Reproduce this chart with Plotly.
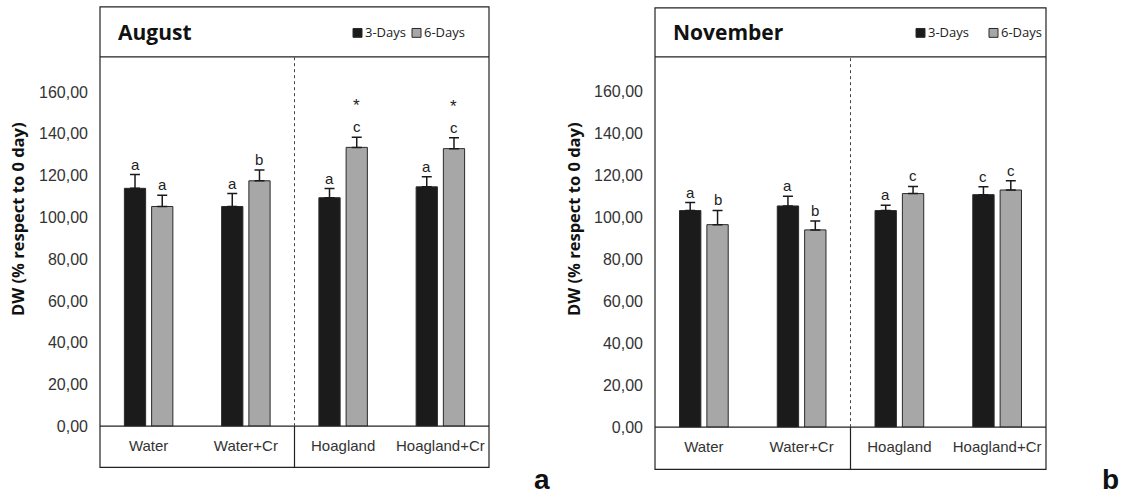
import plotly.graph_objects as go

W, H = 1124, 501

categories = ["Water", "Water+Cr", "Hoagland", "Hoagland+Cr"]
series_names = ["3-Days", "6-Days"]

# August (panel a)
aug_3d = [113.9, 105.2, 109.4, 114.6]
aug_3d_err = [6.6, 6.2, 4.4, 4.8]
aug_6d = [105.2, 117.5, 133.5, 132.9]
aug_6d_err = [5.4, 5.2, 4.8, 5.2]
aug_3d_letters = ["a", "a", "a", "a"]
aug_6d_letters = ["a", "b", "c", "c"]
aug_6d_stars = ["", "", "*", "*"]

# November (panel b)
nov_3d = [103.2, 105.4, 103.2, 110.8]
nov_3d_err = [3.8, 4.6, 2.6, 3.8]
nov_6d = [96.5, 94.0, 111.3, 113.0]
nov_6d_err = [6.8, 4.2, 3.4, 4.4]
nov_3d_letters = ["a", "a", "a", "c"]
nov_6d_letters = ["b", "b", "c", "c"]
nov_6d_stars = ["", "", "", ""]

y_ticks = [0, 20, 40, 60, 80, 100, 120, 140, 160]
y_title = "DW (% respect to 0 day)"
panel_titles = ["August", "November"]
panel_tags = ["a", "b"]

BLACK = "#1b1b1b"
GREY = "#a7a7a7"
EDGE = "#2a2a2a"


def px(x):
    return x / W


def py(y):
    return 1 - y / H


# panel pixel geometry: left, right, top(box), header bottom, zero line, bottom(box)
panels = [
    dict(l=100, r=489, top=7, hdr=58, zero=434, bot=476, ymax=176.8, ytx=18,
         tag=(542, 488)),
    dict(l=655, r=1046, top=8, hdr=58, zero=435, bot=478, ymax=176.4, ytx=574,
         tag=(1110, 488)),
]

data = [
    (aug_3d, aug_3d_err, aug_6d, aug_6d_err, aug_3d_letters, aug_6d_letters, aug_6d_stars),
    (nov_3d, nov_3d_err, nov_6d, nov_6d_err, nov_3d_letters, nov_6d_letters, nov_6d_stars),
]

fig = go.Figure()
shapes = []
annotations = []

for i, (p, d) in enumerate(zip(panels, data)):
    v3, e3, v6, e6, l3, l6, s6 = d
    xa = "x" if i == 0 else "x2"
    ya = "y" if i == 0 else "y2"
    for name, vals, errs, col in ((series_names[0], v3, e3, BLACK), (series_names[1], v6, e6, GREY)):
        fig.add_trace(go.Bar(
            x=categories, y=vals, name=name, xaxis=xa, yaxis=ya,
            marker=dict(color=col, line=dict(color=EDGE, width=1)),
            error_y=dict(type="data", array=errs, arrayminus=[0] * len(errs), symmetric=False,
                         color="#1a1a1a", thickness=1.5, width=5),
            showlegend=False,
        ))
    slot = (p["r"] - p["l"]) / 4 * (1 - 0.44) / 2
    for j, c in enumerate(categories):
        for vals, errs, labs, shift in ((v3, e3, l3, -slot / 2), (v6, e6, l6, slot / 2)):
            annotations.append(dict(
                x=c, y=vals[j] + errs[j], xref=xa, yref=ya, text=labs[j], showarrow=False,
                xshift=shift, yanchor="bottom", yshift=0,
                font=dict(family="Liberation Sans", size=15, color="#222222")))
        if s6[j]:
            annotations.append(dict(
                x=c, y=v6[j] + e6[j], xref=xa, yref=ya, text=s6[j], showarrow=False,
                xshift=slot / 2, yanchor="bottom", yshift=20,
                font=dict(family="Liberation Sans", size=17, color="#222222")))

    # frame
    shapes.append(dict(type="rect", xref="paper", yref="paper", x0=px(p["l"]), x1=px(p["r"]),
                       y0=py(p["bot"]), y1=py(p["top"]), line=dict(color="#222222", width=1.2)))
    shapes.append(dict(type="line", xref="paper", yref="paper", x0=px(p["l"]), x1=px(p["r"]),
                       y0=py(p["hdr"]), y1=py(p["hdr"]), line=dict(color="#222222", width=1.2)))
    shapes.append(dict(type="line", xref="paper", yref="paper", x0=px(p["l"]), x1=px(p["r"]),
                       y0=py(p["zero"]), y1=py(p["zero"]), line=dict(color="#222222", width=1.2)))
    # dividers
    shapes.append(dict(type="line", xref=xa, yref=ya + " domain", x0=1.5, x1=1.5, y0=0, y1=1,
                       line=dict(color="#444444", width=1, dash="dot")))
    shapes.append(dict(type="line", xref=xa, yref="paper", x0=1.5, x1=1.5,
                       y0=py(p["bot"]), y1=py(p["zero"]), line=dict(color="#222222", width=1.2)))

    # header title
    annotations.append(dict(x=px(p["l"] + 16), y=py(33), xref="paper", yref="paper",
                            text="<b>%s</b>" % panel_titles[i], showarrow=False,
                            xanchor="left", yanchor="middle",
                            font=dict(family="Open Sans", size=21, color="#111111")))
    # manual legend
    lx = p["r"] - 136 if i == 0 else p["r"] - 130
    for k, (name, col) in enumerate(((series_names[0], BLACK), (series_names[1], GREY))):
        x0 = lx + k * (59 if i == 0 else 73)
        shapes.append(dict(type="rect", xref="paper", yref="paper", x0=px(x0), x1=px(x0 + 9),
                           y0=py(38), y1=py(29), fillcolor=col, line=dict(color=EDGE, width=1)))
        annotations.append(dict(x=px(x0 + 10), y=py(33), xref="paper", yref="paper",
                                text=name, showarrow=False, xanchor="left", yanchor="middle",
                                font=dict(family="Open Sans", size=13, color="#222222")))
    # y title
    annotations.append(dict(x=px(p["ytx"]), y=py(223), xref="paper", yref="paper",
                            text="<b>%s</b>" % y_title, textangle=-90, showarrow=False,
                            xanchor="center", yanchor="middle",
                            font=dict(family="Open Sans", size=16.5, color="#111111")))
    # panel tag
    annotations.append(dict(x=px(p["tag"][0]), y=py(p["tag"][1]), xref="paper", yref="paper",
                            text="<b>%s</b>" % panel_tags[i], showarrow=False,
                            xanchor="center", yanchor="middle",
                            font=dict(family="Liberation Sans", size=28, color="#111111")))

axis_common_x = dict(type="category", range=[-0.5, 3.5], showgrid=False, zeroline=False,
                     showline=False, ticks="", ticklabelstandoff=9,
                     tickfont=dict(family="Liberation Sans", size=15, color="#333333"),
                     fixedrange=True)
axis_common_y = dict(tickvals=y_ticks, tickformat=".2f", showgrid=False, zeroline=False,
                     showline=False, ticks="", ticklabelstandoff=11,
                     tickfont=dict(family="Liberation Sans", size=16, color="#333333"),
                     fixedrange=True)

p0, p1 = panels
fig.update_layout(
    width=W, height=H, autosize=False,
    margin=dict(l=0, r=0, t=0, b=0),
    paper_bgcolor="white", plot_bgcolor="white",
    separators=",.",
    barmode="group", bargap=0.44, bargroupgap=0.22,
    showlegend=False,
    xaxis=dict(domain=[px(p0["l"]), px(p0["r"])], anchor="y", **axis_common_x),
    yaxis=dict(domain=[py(p0["zero"]), py(p0["hdr"])], range=[0, p0["ymax"]], anchor="x", **axis_common_y),
    xaxis2=dict(domain=[px(p1["l"]), px(p1["r"])], anchor="y2", **axis_common_x),
    yaxis2=dict(domain=[py(p1["zero"]), py(p1["hdr"])], range=[0, p1["ymax"]], anchor="x2", **axis_common_y),
    shapes=shapes,
    annotations=annotations,
)

fig.write_html("out.html")
